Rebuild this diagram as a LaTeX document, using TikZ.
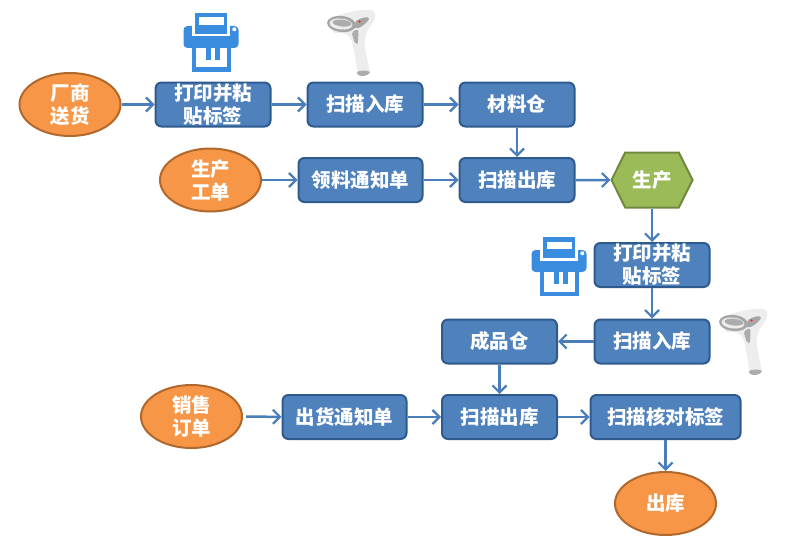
\documentclass[tikz,border=0pt]{standalone}
\usepackage{fontspec}
\setmainfont{Noto Sans CJK SC}
\usepackage{xcolor}
\usetikzlibrary{arrows.meta,shapes.geometric,shapes.symbols}
\definecolor{boxblue}{HTML}{4F81BD}
\definecolor{boxline}{HTML}{2F5A8E}
\definecolor{ovalfill}{HTML}{F79646}
\definecolor{ovalline}{HTML}{B0682C}
\definecolor{hexfill}{HTML}{9BBB59}
\definecolor{hexline}{HTML}{71893F}
\definecolor{flowblue}{HTML}{4A7EBB}
\definecolor{iconblue}{HTML}{3A8DDE}
\tikzset{
  label/.style={text=white,font=\fontsize{19.5}{23}\selectfont\bfseries,align=center,inner sep=0pt},
  box/.style={label,draw=boxline,fill=boxblue,line width=2pt,rounded corners=6pt,minimum height=44pt,minimum width=115pt},
  oval/.style={label,ellipse,draw=ovalline,fill=ovalfill,line width=2pt,minimum width=101pt,minimum height=63pt},
  hex/.style={label,signal,signal to=west and east,signal pointer angle=127,draw=hexline,fill=hexfill,line width=2pt,minimum width=81pt,minimum height=55pt},
  flow/.style={flowblue,line width=2.5pt,-{Straight Barb[length=7pt,width=14pt,line width=2.2pt]}},
  printer/.pic={
    \fill[iconblue,rounded corners=4pt] (-27.5,-15) rectangle (27.5,7);
    \fill[white] (-19,-16) rectangle (19,-4.5);
    \fill[iconblue] (-16,-28) rectangle (16,-7);
    \fill[white] (-12,-23.5) rectangle (12.5,-16);
    \fill[white] (23.3,-11.7) circle (2);
    \fill[iconblue] (-19.5,6) rectangle (19.5,30.5);
    \fill[white] (-15.5,7) rectangle (15.5,26.5);
    \fill[iconblue] (-5.5,6) rectangle (-0.5,19);
    \fill[iconblue] (4,6) rectangle (9,19);
  },
  scanner/.pic={
    \fill[gray!14] (-21.7,-20) .. controls (-14,-27) and (8,-32) .. (21.7,-31) .. controls (27,-30) and (26,-22) .. (22,-17) .. controls (16,-10) and (14,-2) .. (15,5) .. controls (16,15) and (19,24) .. (20,31.7) .. controls (18,35) and (13,35) .. (8,33) .. controls (6,22) and (4,10) .. (3,5) .. controls (2,-2) and (-2,-8) .. (-8,-8) -- (-16,-8) -- cycle;
    \fill[gray!70,rotate around={-6:(-8.5,-17)}] (-8.5,-17) ellipse (14.5 and 8);
    \fill[gray!15,rotate around={-6:(-9,-17)}] (-9,-17) ellipse (11.5 and 5.5);
    \fill[gray!65,rotate around={-6:(-9,-17.5)}] (-8,-18) ellipse (9.5 and 3.4);
    \fill[gray!70] (6,-20) .. controls (12,-24) and (19,-25) .. (19,-22) .. controls (17,-18) and (9,-11) .. (4,-13) -- cycle;
    \fill[red!80!white] (9.5,-19.5) circle (1.3);
    \fill[gray!65,rounded corners=2pt] (1.5,-9) -- (8.5,-12) -- (8,3) -- (5,3) -- cycle;
    \fill[gray!65] (7,31) .. controls (10,29) and (17,29) .. (20,31) .. controls (19,35.5) and (10,36) .. (7.5,33.5) -- cycle;
  },
}
\begin{document}
\begin{tikzpicture}[x=1pt,y=-1pt]
    \useasboundingbox (0,0) rectangle (800,551);
    % first row
    \node[oval] (vendor) at (70,104.5) {厂商\\送货};
    \node[box] (printA) at (213,104.5) {打印并粘\\贴标签};
    \node[box] (scanA) at (365,104.5) {扫描入库};
    \node[box] (material) at (517,104.5) {材料仓};
    % second row
    \node[oval] (order) at (210.5,180) {生产\\工单};
    \node[box,minimum width=124pt] (notice) at (360.5,180) {领料通知单};
    \node[box] (scanB) at (517,180) {扫描出库};
    \node[hex] (make) at (652,180) {生产};
    % right column
    \node[box] (printB) at (652,265) {打印并粘\\贴标签};
    \node[box] (scanC) at (652,341.5) {扫描入库};
    \node[box] (product) at (499.5,341.5) {成品仓};
    % bottom rows
    \node[oval] (sales) at (191.5,416.5) {销售\\订单};
    \node[box,minimum width=124pt] (ship) at (344.5,417) {出货通知单};
    \node[box] (scanD) at (499.5,417) {扫描出库};
    \node[box,minimum width=150pt] (check) at (665.5,417) {扫描核对标签};
    \node[oval] (out) at (665.5,503.5) {出库};

    \draw[flow] (vendor) -- (printA);
    \draw[flow] (printA) -- (scanA);
    \draw[flow] (scanA) -- (material);
    \draw[flow] (material) -- (scanB);
    \draw[flow] (order) -- (notice);
    \draw[flow] (notice) -- (scanB);
    \draw[flow] (scanB) -- (make);
    \draw[flow] (make) -- (printB);
    \draw[flow] (printB) -- (scanC);
    \draw[flow] (scanC) -- (product);
    \draw[flow] (product) -- (scanD);
    \draw[flow,shorten <=3pt] (sales) -- (ship);
    \draw[flow] (ship) -- (scanD);
    \draw[flow] (scanD) -- (check);
    \draw[flow] (check) -- (out);

    \pic at (211,41) {printer};
    \pic at (559,265) {printer};
    \pic at (350,41) {scanner};
    \pic at (742,340) {scanner};
\end{tikzpicture}
\end{document}
